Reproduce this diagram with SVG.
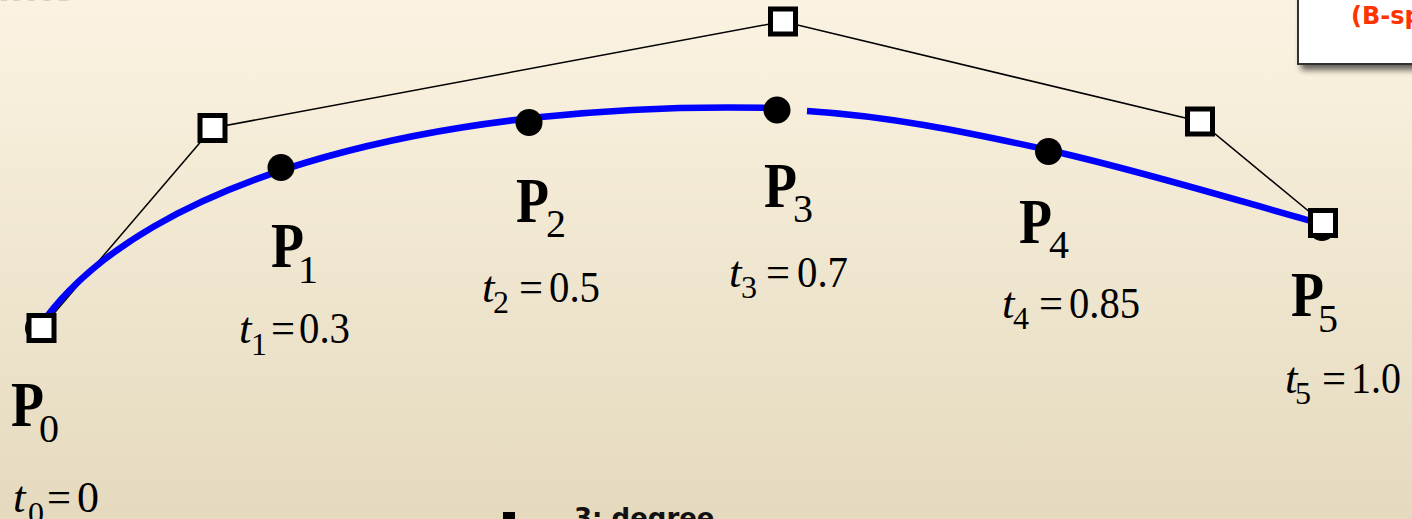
<svg xmlns="http://www.w3.org/2000/svg" width="1412" height="519" viewBox="0 0 1412 519">
<defs>
<linearGradient id="bg" x1="0" y1="0" x2="0" y2="1">
<stop offset="0" stop-color="#FBF3E2"/>
<stop offset="1" stop-color="#E5DABE"/>
</linearGradient>
<filter id="shadow" x="-20%" y="-20%" width="150%" height="160%">
<feGaussianBlur in="SourceAlpha" stdDeviation="3"/>
<feOffset dx="4" dy="5" result="b"/>
<feComponentTransfer><feFuncA type="linear" slope="0.6"/></feComponentTransfer>
<feMerge><feMergeNode/><feMergeNode in="SourceGraphic"/></feMerge>
</filter>
</defs>
<style>
.ctrl{fill:#fff;stroke:#000;stroke-width:5}
.poly{fill:none;stroke:#000;stroke-width:1.5}
.curve{fill:none;stroke:#0000FF;stroke-width:6.5}
.dot{fill:#000}
.P{font-family:"Liberation Serif",serif;font-weight:bold;font-size:64px;fill:#000}
.Ps{font-family:"Liberation Serif",serif;font-size:40px;fill:#000}
.t{font-family:"Liberation Serif",serif;font-size:45px;fill:#000}
.ti{font-style:italic}
.ts{font-family:"Liberation Serif",serif;font-size:32px;fill:#000}
</style>
<rect x="0" y="0" width="1412" height="519" fill="url(#bg)"/>
<text x="-2" y="1" font-family="Liberation Sans, sans-serif" font-weight="bold" font-size="44" fill="#D4D0C8">ints</text>

<g id="legend-box">
<rect x="1298" y="-10" width="130" height="74" fill="#fff" stroke="#333" stroke-width="2" filter="url(#shadow)"/>
<text x="1351" y="24" font-family="DejaVu Sans, sans-serif" font-weight="bold" font-size="24" fill="#FF3300">(B-spline)</text>
</g>

<g id="connectors">
<polyline class="poly" points="41.5,328 212.5,128 783,21.5 1200,121.5 1323,223"/>
<path class="curve" d="M40,326 C145,174 450,100 776,108"/>
<path class="curve" d="M807,111 C887,116 962,131 1048,150 C1134,169 1232,199 1322,224"/>
</g>

<g id="dots">
<circle class="dot" cx="38" cy="328" r="13"/>
<circle class="dot" cx="1322" cy="228" r="13"/>
<circle class="dot" cx="281" cy="167.5" r="13.5"/>
<circle class="dot" cx="529" cy="122.5" r="13.5"/>
<circle class="dot" cx="777" cy="110" r="13.5"/>
<circle class="dot" cx="1048.5" cy="151.5" r="13.5"/>
</g>

<g id="ctrl-points">
<rect class="ctrl" x="29" y="315.5" width="25" height="25"/>
<rect class="ctrl" x="200" y="115.5" width="25" height="25"/>
<rect class="ctrl" x="770.5" y="9" width="25" height="25"/>
<rect class="ctrl" x="1187.5" y="109" width="25" height="25"/>
<rect class="ctrl" x="1310.5" y="210.5" width="25" height="25"/>
</g>

<g id="P0"><text class="P" x="11" y="426" textLength="33" lengthAdjust="spacingAndGlyphs">P</text><text class="Ps" x="39" y="442">0</text>
<text class="t ti" x="13" y="512">t</text><text class="ts" x="28" y="524">0</text><text class="t" x="47" y="512" textLength="24" lengthAdjust="spacingAndGlyphs">=</text><text class="t" x="77" y="512" textLength="22" lengthAdjust="spacingAndGlyphs">0</text></g>

<g id="P1"><text class="P" x="271" y="267" textLength="33" lengthAdjust="spacingAndGlyphs">P</text><text class="Ps" x="298" y="283">1</text>
<text class="t ti" x="239" y="343">t</text><text class="ts" x="251" y="355">1</text><text class="t" x="271" y="343" textLength="24" lengthAdjust="spacingAndGlyphs">=</text><text class="t" x="299" y="343" textLength="51" lengthAdjust="spacingAndGlyphs">0.3</text></g>

<g id="P2"><text class="P" x="516" y="222" textLength="33" lengthAdjust="spacingAndGlyphs">P</text><text class="Ps" x="546" y="237">2</text>
<text class="t ti" x="482" y="302">t</text><text class="ts" x="493" y="313">2</text><text class="t" x="519" y="302" textLength="24" lengthAdjust="spacingAndGlyphs">=</text><text class="t" x="549" y="302" textLength="51" lengthAdjust="spacingAndGlyphs">0.5</text></g>

<g id="P3"><text class="P" x="764" y="207" textLength="33" lengthAdjust="spacingAndGlyphs">P</text><text class="Ps" x="793" y="222">3</text>
<text class="t ti" x="729" y="287">t</text><text class="ts" x="741" y="298">3</text><text class="t" x="766" y="287" textLength="24" lengthAdjust="spacingAndGlyphs">=</text><text class="t" x="797" y="287" textLength="51" lengthAdjust="spacingAndGlyphs">0.7</text></g>

<g id="P4"><text class="P" x="1019" y="243" textLength="33" lengthAdjust="spacingAndGlyphs">P</text><text class="Ps" x="1049" y="258">4</text>
<text class="t ti" x="1002" y="318">t</text><text class="ts" x="1013" y="329">4</text><text class="t" x="1039" y="318" textLength="24" lengthAdjust="spacingAndGlyphs">=</text><text class="t" x="1069" y="318" textLength="71" lengthAdjust="spacingAndGlyphs">0.85</text></g>

<g id="P5"><text class="P" x="1291" y="316" textLength="33" lengthAdjust="spacingAndGlyphs">P</text><text class="Ps" x="1318" y="332">5</text>
<text class="t ti" x="1285" y="393">t</text><text class="ts" x="1295" y="404">5</text><text class="t" x="1322" y="393" textLength="24" lengthAdjust="spacingAndGlyphs">=</text><text class="t" x="1351" y="393" textLength="50" lengthAdjust="spacingAndGlyphs">1.0</text></g>

<g id="bullet">
<rect x="503" y="512" width="12" height="12" fill="#000"/>
<text x="574" y="527" font-family="DejaVu Sans, sans-serif" font-weight="bold" font-size="26" fill="#111">3: degree</text>
</g>
</svg>
